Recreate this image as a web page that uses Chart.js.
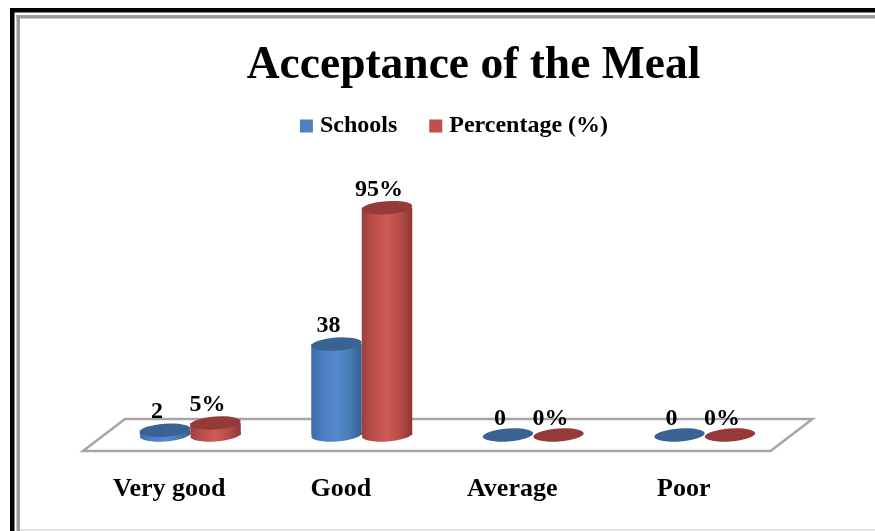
<!DOCTYPE html>
<html><head><meta charset="utf-8">
<style>html,body{margin:0;padding:0;background:#fff}canvas{display:block;filter:blur(0.45px)}</style>
<script src="https://cdn.jsdelivr.net/npm/chart.js@4"></script>
</head><body><canvas id="c" width="875" height="531"></canvas>
<script>
const categories = ['Very good','Good','Average','Poor'];
const schools = [2,38,0,0];
const percentage = [5,95,0,0];
const seriesNames = ['Schools','Percentage (%)'];
const FONT = '"Liberation Serif", serif';
const GROUP_PCT = 0.589;
const palettes = [
  {flat:'#4f81bd', top:'#3b6391', stops:['#3d6ca6','#4d80c2','#5689cf','#4a7cb9','#385f8e']},
  {flat:'#c0504d', top:'#943a38', stops:['#9c403e','#bd4f4c','#cf5a56','#b94c49','#8b3735']}
];
function bodyFill(ctx2d,x0,x1,p){
  const g=ctx2d.createLinearGradient(x0,0,x1,0);
  p.stops.forEach((s,i)=>g.addColorStop(i/(p.stops.length-1),s));
  return g;
}
function scriptedFill(ctx){
  const p=palettes[ctx.datasetIndex];
  if(ctx.type!=='data') return p.flat;
  const sx=ctx.chart.scales.x;
  if(!sx) return p.flat;
  const w=sx.width/categories.length*GROUP_PCT/2;
  const c=sx.getPixelForValue(ctx.dataIndex);
  if(!isFinite(w)||!isFinite(c)) return p.flat;
  return ctx.datasetIndex===0?bodyFill(ctx.chart.ctx,c-w,c,p):bodyFill(ctx.chart.ctx,c,c+w,p);
}
function ell(c,x,y,rx,fill){
  c.beginPath();c.ellipse(x,y,rx,6.5,-4*Math.PI/180,0,Math.PI*2);c.fillStyle=fill;c.fill();
}
const scene={
  id:'scene',
  beforeDraw(chart){
    const c=chart.ctx;c.save();
    c.fillStyle='#fff';c.fillRect(0,0,875,531);
    c.fillStyle='#000';c.fillRect(10,8,865,4.5);c.fillRect(10,8,4.5,523);
    c.fillStyle='#9a9a9a';c.fillRect(16.5,15,858.5,3.5);c.fillRect(16.5,15,3.5,516);
    c.fillStyle='#dcdcdc';c.fillRect(20,529,855,1.5);
    c.restore();
  },
  beforeDatasetsDraw(chart){
    const c=chart.ctx,a=chart.chartArea;
    c.save();c.strokeStyle='#a6a6a6';c.lineWidth=2.5;c.lineJoin='miter';
    c.beginPath();
    c.moveTo(a.left-21.5,a.bottom+16);c.lineTo(a.left+20.5,a.bottom-16);
    c.lineTo(a.right+22,a.bottom-16);c.lineTo(a.right-20,a.bottom+16);c.closePath();c.stroke();
    c.restore();
  },
  beforeDatasetDraw(){return false;},
  afterDatasetsDraw(chart){
    const c=chart.ctx;
    [0,1].forEach(i=>{
      const p=palettes[i];
      chart.getDatasetMeta(i).data.forEach(bar=>{
        const {x,y,base,width}=bar.getProps(['x','y','base','width'],true);
        if(base-y>0.5) ell(c,x,base,width/2,bodyFill(c,x-width/2,x+width/2,p));
        bar.draw(c,chart.chartArea);
        ell(c,x,y,width/2,p.top);
      });
    });
    c.save();c.fillStyle='#000';c.textAlign='center';c.textBaseline='middle';c.font='bold 24px '+FONT;
    [0,1].forEach(i=>{
      chart.getDatasetMeta(i).data.forEach((bar,k)=>{
        const v=chart.data.datasets[i].data[k];
        const t=i===1?v+'%':String(v);
        const {x,y}=bar.getProps(['x','y'],true);
        c.fillText(t,x-8,y-(v===0?16:18));
      });
    });
    c.restore();
  },
  afterLayout(chart){
    chart.titleBlock.left+=52;
    chart.legend.left+=18;
    chart.legend.top-=16.5;
  }
};
new Chart(document.getElementById('c'),{
  type:'bar',
  data:{labels:categories,datasets:[
    {label:seriesNames[0],data:schools,backgroundColor:scriptedFill,borderWidth:0},
    {label:seriesNames[1],data:percentage,backgroundColor:scriptedFill,borderWidth:0}
  ]},
  options:{
    responsive:false,animation:false,
    layout:{padding:{left:104.5,right:84.5,top:0,bottom:0}},
    datasets:{bar:{categoryPercentage:GROUP_PCT,barPercentage:1}},
    scales:{
      x:{grid:{display:false},border:{display:false},
        afterFit(s){s.height=96;},
        ticks:{color:'#000',padding:31,labelOffset:-21,maxRotation:0,font:{family:FONT,size:26,weight:'bold'}}},
      y:{display:false,min:0,max:113}
    },
    plugins:{
      title:{display:true,text:'Acceptance of the Meal',color:'#000',
        font:{family:FONT,size:45.5,weight:'bold',lineHeight:1.2},padding:{top:39,bottom:0}},
      legend:{position:'top',labels:{color:'#000',padding:37,boxWidth:3,boxHeight:3,
        font:{family:FONT,size:24,weight:'bold'},
        generateLabels(chart){
          return Chart.defaults.plugins.legend.labels.generateLabels(chart).map((l,i)=>{
            l.fillStyle=palettes[i].flat;l.lineWidth=10;l.strokeStyle=palettes[i].flat;return l;});
        }}},
      tooltip:{enabled:false}
    }
  },
  plugins:[scene]
});
</script></body></html>
